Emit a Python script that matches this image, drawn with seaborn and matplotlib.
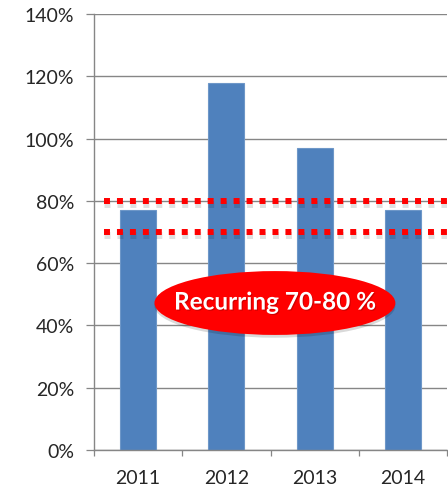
import matplotlib
matplotlib.use("Agg")
import matplotlib.pyplot as plt
import matplotlib.patheffects as pe
from matplotlib.patches import Ellipse
from matplotlib.ticker import FuncFormatter, FixedLocator
import seaborn as sns
import pandas as pd

years = ["2011", "2012", "2013", "2014"]
ratios = [77, 118, 97, 77]
band_levels = [80, 70]
band_label = "Recurring 70-80 %"
y_ticks = [0, 20, 40, 60, 80, 100, 120, 140]

sns.set_theme(style="white")
plt.rcParams["font.family"] = ["Lato", "DejaVu Sans"]

df = pd.DataFrame({"year": years, "ratio": ratios})

fig = plt.figure(figsize=(4.48, 4.89), dpi=100)
ax = fig.add_axes([94 / 448, 38 / 489, 353 / 448, 436 / 489])

grid_c = "#868686"
sns.barplot(data=df, x="year", y="ratio", color="#4F81BD", width=0.41,
            saturation=1, edgecolor="#6E97C8", linewidth=0.8, ax=ax, zorder=2)

ax.set_xlim(-0.5, 3.5)
ax.set_ylim(0, 140)
ax.set_xlabel("")
ax.set_ylabel("")

ax.yaxis.set_major_locator(FixedLocator(y_ticks))
ax.yaxis.set_major_formatter(FuncFormatter(lambda v, p: f"{v:.0f}%"))
ax.grid(axis="y", color=grid_c, linewidth=1, zorder=0)
ax.set_axisbelow(True)
ax.tick_params(axis="y", length=5.8, width=0.9, color=grid_c, pad=8.5,
               labelsize=14, labelcolor="#262626", left=True)
ax.tick_params(axis="x", which="major", length=0, pad=14,
               labelsize=14, labelcolor="#262626")
ax.set_xticks([i - 0.5 for i in range(len(years) + 1)], minor=True)
ax.tick_params(axis="x", which="minor", length=4.3, width=0.9, color=grid_c,
               bottom=True)

for side in ["top", "right"]:
    ax.spines[side].set_visible(False)
for side in ["left", "bottom"]:
    ax.spines[side].set_color(grid_c)
    ax.spines[side].set_linewidth(1)

# dotted band lines with a soft shadow
for lvl in band_levels:
    ax.hlines(lvl, -0.387, 3.5, colors="#FF0000", linewidth=4.3,
              linestyles=(0, (1, 1.17)), capstyle="butt", zorder=4,
              path_effects=[pe.SimpleLineShadow(offset=(0, -2), shadow_color="#000000",
                                                alpha=0.12, linewidth=5),
                            pe.Normal()])

# highlighted label in a red ellipse
ell = Ellipse((1.55, 47.2), 2.73, 20.5, facecolor="#FF0000", edgecolor="none",
              zorder=5,
              path_effects=[pe.SimplePatchShadow(offset=(0, -2), shadow_rgbFace="#000000",
                                                 alpha=0.15), pe.Normal()])
ax.add_patch(ell)
ax.text(1.55, 47.5, band_label, ha="center", va="center", color="white",
        fontsize=17.5, fontweight="bold", zorder=6,
        path_effects=[pe.withSimplePatchShadow(offset=(0.8, -0.8), shadow_rgbFace="#7F0000",
                                               alpha=0.35)])

fig.savefig("out.png", dpi=100)
